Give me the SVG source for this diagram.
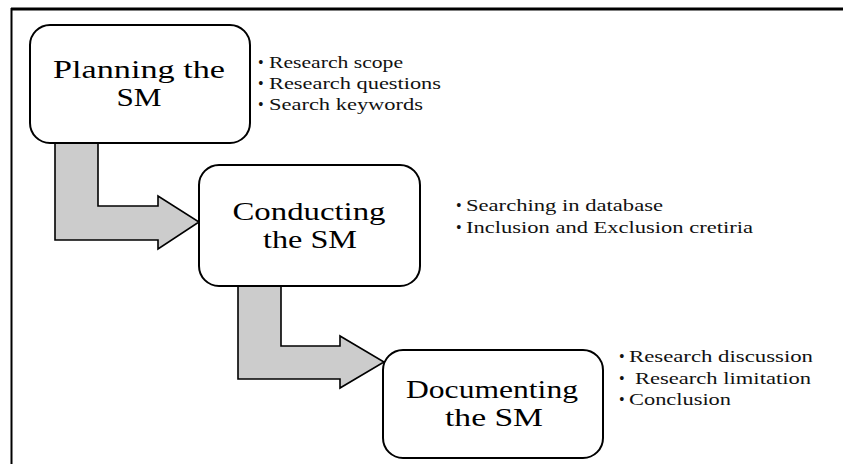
<svg xmlns="http://www.w3.org/2000/svg" width="843" height="464" viewBox="0 0 843 464">
<style>
.box{fill:#fff;stroke:#000;stroke-width:2}
.arrow{fill:#cccccc;stroke:#000;stroke-width:1.6;stroke-linejoin:miter}
.t{font-family:"Liberation Serif","Times New Roman",serif;font-size:25px;fill:#000;text-anchor:middle}
.b{font-family:"Liberation Serif","Times New Roman",serif;font-size:16px;fill:#111}
</style>
<rect width="843" height="464" fill="#fff"/>
<g id="frame">
<line x1="11" y1="9" x2="843" y2="9" stroke="#000" stroke-width="3"/>
<line x1="11.5" y1="8" x2="11.5" y2="464" stroke="#000" stroke-width="2"/>
</g>
<g id="connectors">
<path class="arrow" d="M55,143 L55,240 L158,240 L158,249 L199,222 L158,196 L158,206 L98,206 L98,143 Z"/>
<path class="arrow" d="M238,286 L238,379 L340,379 L340,388 L384,362 L340,336 L340,346 L281,346 L281,286 Z"/>
</g>
<g id="planning">
<rect class="box" x="30" y="25" width="220" height="118" rx="20"/>
<text class="t" x="139" y="78" textLength="172" lengthAdjust="spacingAndGlyphs">Planning the</text>
<text class="t" x="139" y="106" textLength="45" lengthAdjust="spacingAndGlyphs">SM</text>
</g>
<g id="planning-items">
<text class="b" x="258" y="68">•</text><text class="b" x="269" y="68" textLength="134" lengthAdjust="spacingAndGlyphs">Research scope</text>
<text class="b" x="258" y="89">•</text><text class="b" x="269" y="89" textLength="172" lengthAdjust="spacingAndGlyphs">Research questions</text>
<text class="b" x="258" y="110">•</text><text class="b" x="269" y="110" textLength="154" lengthAdjust="spacingAndGlyphs">Search keywords</text>
</g>
<g id="conducting">
<rect class="box" x="199" y="165" width="221" height="121" rx="20"/>
<text class="t" x="309" y="220" textLength="153" lengthAdjust="spacingAndGlyphs">Conducting</text>
<text class="t" x="310" y="248" textLength="94" lengthAdjust="spacingAndGlyphs">the SM</text>
</g>
<g id="conducting-items">
<text class="b" x="456" y="211">•</text><text class="b" x="466" y="211" textLength="197" lengthAdjust="spacingAndGlyphs">Searching in database</text>
<text class="b" x="456" y="233">•</text><text class="b" x="466" y="233" textLength="287" lengthAdjust="spacingAndGlyphs">Inclusion and Exclusion cretiria</text>
</g>
<g id="documenting">
<rect class="box" x="383" y="350" width="220" height="108" rx="20"/>
<text class="t" x="492" y="398" textLength="172" lengthAdjust="spacingAndGlyphs">Documenting</text>
<text class="t" x="494" y="426" textLength="98" lengthAdjust="spacingAndGlyphs">the SM</text>
</g>
<g id="documenting-items">
<text class="b" x="619" y="362">•</text><text class="b" x="629" y="362" textLength="184" lengthAdjust="spacingAndGlyphs">Research discussion</text>
<text class="b" x="619" y="384">•</text><text class="b" x="635" y="384" textLength="176" lengthAdjust="spacingAndGlyphs">Research limitation</text>
<text class="b" x="619" y="405">•</text><text class="b" x="629" y="405" textLength="102" lengthAdjust="spacingAndGlyphs">Conclusion</text>
</g>
</svg>
